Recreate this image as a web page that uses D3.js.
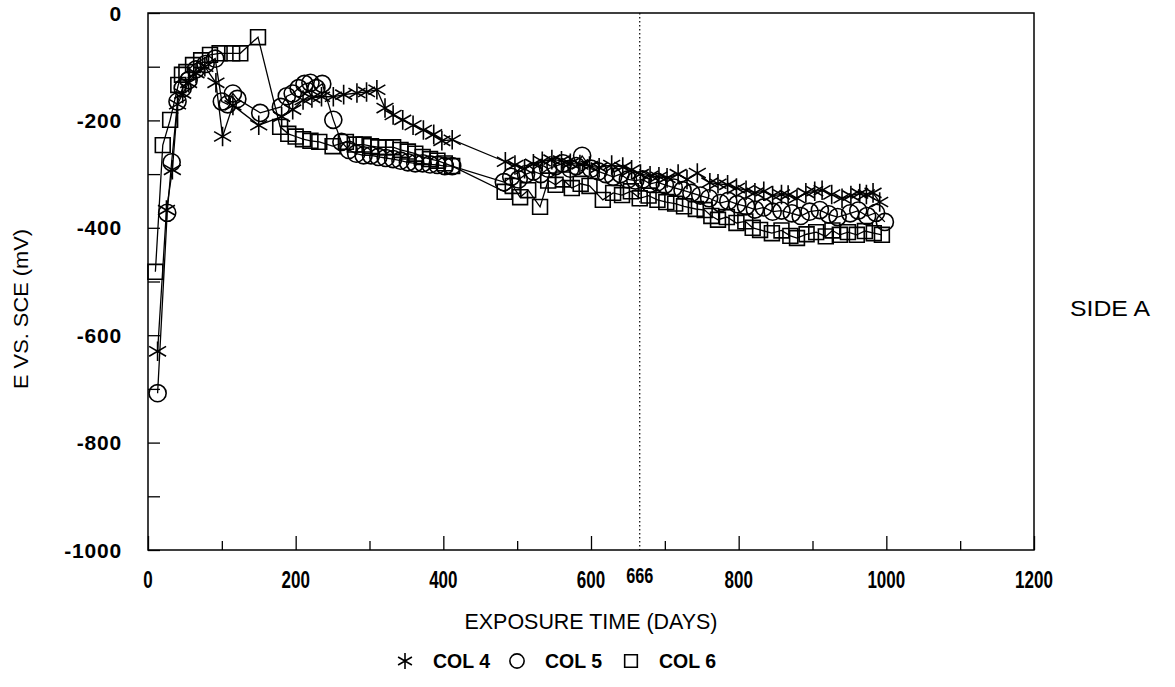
<!DOCTYPE html>
<meta charset="utf-8">
<style>
body { margin: 0; background: #fff; }
.series-line { fill: none; stroke: #000; stroke-width: 1.3px; }
.marker { fill: none; stroke: #000; stroke-width: 1.6px; }
text { font-family: "Liberation Sans", Arial, sans-serif; fill: #000; }
</style>
<body>
<script src="https://d3js.org/d3.v7.min.js"></script>
<script>

// COL 4 (asterisk)
var days4 = [13, 25, 33, 40, 47, 55, 65, 77, 92, 101, 115, 150, 181, 196, 210, 222, 235, 251, 265, 283, 296, 310, 321, 332, 345, 359, 373, 387, 398, 412,
             484, 497, 510, 522, 534, 547, 560, 572, 585, 598, 611, 628, 643, 655, 667, 680, 692, 703, 718, 730, 744, 761, 772, 785, 797, 810, 822,
             834, 846, 858, 867, 879, 891, 903, 913, 926, 940, 952, 964, 973, 982, 991];
var vals4 = [-630, -367, -292, -170, -150, -130, -112, -100, -130, -230, -172, -209, -193, -180, -162, -158, -156, -156, -152, -149, -147, -143, -177, -190, -199, -209, -218, -226, -238, -236,
             -277, -283, -290, -281, -276, -273, -275, -280, -282, -285, -288, -283, -287, -292, -300, -303, -305, -307, -300, -310, -298, -316, -318, -320, -326, -330, -335,
             -332, -340, -338, -339, -345, -335, -332, -330, -338, -345, -340, -336, -338, -335, -352];

// COL 5 (circle)
var days5 = [13, 26, 32, 40, 47, 55, 65, 78, 91, 100, 108, 115, 121, 152, 180, 188, 196, 204, 212, 220, 228, 236, 251, 262, 272, 282, 292, 302, 312, 322, 332, 342, 352, 362, 372, 382, 392, 402, 412,
             482, 492, 502, 512, 522, 532, 542, 552, 562, 572, 580, 588, 600, 610, 620, 630, 640, 650, 660, 670, 680, 690, 700, 712, 724, 736, 748, 760, 775, 786, 798, 810, 822,
             834, 846, 858, 872, 884, 896, 910, 922, 934, 951, 962, 974, 986, 998];
var vals5 = [-708, -372, -278, -165, -140, -125, -105, -95, -85, -165, -170, -150, -160, -186, -175, -155, -150, -140, -132, -130, -140, -132, -199, -240, -255, -262, -265, -265, -268, -270, -272, -275, -278, -280, -280, -282, -283, -285, -285,
             -315, -305, -310, -300, -295, -300, -290, -285, -280, -290, -285, -266, -290, -295, -300, -305, -300, -310, -312, -310, -318, -315, -320, -325, -330, -335, -340, -345, -354, -350, -356, -360, -366,
             -362, -370, -368, -373, -378, -370, -367, -375, -380, -373, -368, -378, -372, -389];

// COL 6 (square)
var days6 = [10, 20, 30, 41, 46, 52, 61, 72, 84, 97, 114, 125, 149, 179, 190, 200, 210, 220, 232, 250, 268, 280, 292, 302, 312, 322, 332, 342, 352, 362, 372, 382, 392, 402, 412,
             483, 494, 504, 515, 531, 542, 552, 562, 574, 586, 598, 616, 630, 642, 654, 666, 678, 690, 702, 714, 726, 742, 754, 763, 772, 784, 797, 809, 819, 829,
             845, 858, 870, 879, 892, 905, 918, 927, 937, 948, 960, 971, 983, 994];
var vals6 = [-482, -246, -199, -134, -115, -110, -97, -88, -78, -75, -75, -75, -45, -212, -225, -230, -235, -238, -240, -248, -240, -245, -245, -248, -250, -250, -250, -255, -258, -262, -268, -272, -275, -280, -285,
             -333, -322, -343, -330, -361, -312, -320, -310, -326, -318, -322, -348, -335, -339, -332, -345, -340, -348, -352, -355, -360, -365, -367, -378, -385, -380, -391, -388, -400, -404,
             -410, -405, -415, -419, -412, -408, -416, -405, -413, -408, -413, -406, -410, -413];

var xTicks = [0, 200, 400, 600, 800, 1000, 1200];
var yTicks = [0, -200, -400, -600, -800, -1000];
var markDay = 666;
var legendLabels = ["COL 4", "COL 5", "COL 6"];

var margin = {top: 13, left: 148},
    width = 886,
    height = 537;

var svg = d3.select("body").append("svg")
    .attr("width", 1175)
    .attr("height", 687);

var g = svg.append("g")
    .attr("transform", "translate(" + margin.left + "," + margin.top + ")");

var x = d3.scaleLinear().domain([0, 1200]).range([0, width]);
var y = d3.scaleLinear().domain([-1000, 0]).range([height, 0]);

// frame
g.append("rect")
    .attr("x", 0).attr("y", 0)
    .attr("width", width).attr("height", height)
    .attr("fill", "none").attr("stroke", "#000").attr("stroke-width", 1.5);

// inward ticks
var xAxis = d3.axisBottom(x).tickValues(d3.range(0, 1201, 100))
    .tickSize(0).tickFormat("");
var gx = g.append("g").attr("transform", "translate(0," + height + ")").call(xAxis);
gx.select(".domain").remove();
gx.selectAll(".tick").append("line")
    .attr("y2", function(d) { return d % 200 == 0 ? -14 : -9; })
    .attr("stroke", "#000").attr("stroke-width", 1.3);

var yAxis = d3.axisLeft(y).tickValues(d3.range(-1000, 1, 100))
    .tickSize(0).tickFormat("");
var gy = g.append("g").call(yAxis);
gy.select(".domain").remove();
gy.selectAll(".tick").append("line")
    .attr("x2", 12)
    .attr("stroke", "#000").attr("stroke-width", 1.3);

// condensed label helper: draws text at size, squeezed horizontally
function narrow(sel, sx) {
    sel.attr("transform", function() {
        var t = d3.select(this);
        var px = +t.attr("x"), py = +t.attr("y");
        return "translate(" + px + "," + py + ") scale(" + sx + ",1) translate(" + (-px) + "," + (-py) + ")";
    });
}

// tick labels
g.selectAll(".xlab").data(xTicks).enter().append("text")
    .attr("class", "xlab")
    .attr("x", function(d) { return x(d); })
    .attr("y", height + 38)
    .attr("text-anchor", "middle")
    .style("font-size", "23px")
    .style("font-weight", "bold")
    .text(function(d) { return d; })
    .call(narrow, 0.74);

g.append("text")
    .attr("x", x(markDay))
    .attr("y", height + 33)
    .attr("text-anchor", "middle")
    .style("font-size", "22px")
    .style("font-weight", "bold")
    .text(markDay)
    .call(narrow, 0.74);

g.selectAll(".ylab").data(yTicks).enter().append("text")
    .attr("class", "ylab")
    .attr("x", -26)
    .attr("y", function(d) { return y(d); })
    .attr("dy", "0.36em")
    .attr("text-anchor", "end")
    .style("font-size", "21px")
    .style("font-weight", "bold")
    .style("letter-spacing", "0.8px")
    .text(function(d) { return d; });

// dotted marker line at day 666
g.append("line")
    .attr("x1", x(markDay)).attr("x2", x(markDay))
    .attr("y1", 0).attr("y2", height)
    .attr("stroke", "#000").attr("stroke-width", 1.2)
    .attr("stroke-dasharray", "1.5,2.5");

// series
var series = [
    {days: days4, vals: vals4, sym: d3.symbolAsterisk, size: 270},
    {days: days5, vals: vals5, sym: d3.symbolCircle, size: 230},
    {days: days6, vals: vals6, sym: d3.symbolSquare, size: 220}
];

var line = d3.line()
    .x(function(d) { return x(d[0]); })
    .y(function(d) { return y(d[1]); });

series.forEach(function(s) {
    var pts = s.days.map(function(d, i) { return [d, s.vals[i]]; });
    g.append("path")
        .datum(pts)
        .attr("class", "series-line")
        .attr("d", line);
    g.selectAll(null).data(pts).enter().append("path")
        .attr("class", "marker")
        .attr("transform", function(d) { return "translate(" + x(d[0]) + "," + y(d[1]) + ")"; })
        .attr("d", d3.symbol().type(s.sym).size(s.size));
});

// axis titles
svg.append("text")
    .attr("x", margin.left + x(600))
    .attr("y", 629)
    .attr("text-anchor", "middle")
    .style("font-size", "22px")
    .attr("textLength", 253)
    .attr("lengthAdjust", "spacingAndGlyphs")
    .text("EXPOSURE TIME (DAYS)");

svg.append("text")
    .attr("transform", "translate(28,309) rotate(-90)")
    .attr("text-anchor", "middle")
    .style("font-size", "21px")
    .attr("textLength", 160)
    .attr("lengthAdjust", "spacingAndGlyphs")
    .text("E VS. SCE (mV)");

svg.append("text")
    .attr("x", 1070)
    .attr("y", 316)
    .style("font-size", "22px")
    .attr("textLength", 80)
    .attr("lengthAdjust", "spacingAndGlyphs")
    .text("SIDE A");

// legend
var legendX = [405, 517, 631];
var legendSyms = [d3.symbolAsterisk, d3.symbolCircle, d3.symbolSquare];
var legendSizes = [180, 160, 160];
var legend = svg.selectAll(".legend").data(legendLabels).enter().append("g")
    .attr("class", "legend")
    .attr("transform", function(d, i) { return "translate(" + legendX[i] + ",661)"; });
legend.append("path")
    .attr("class", "marker")
    .attr("d", function(d, i) { return d3.symbol().type(legendSyms[i]).size(legendSizes[i])(); });
legend.append("text")
    .attr("x", 28)
    .attr("dy", "0.36em")
    .style("font-size", "20px")
    .style("font-weight", "bold")
    .attr("textLength", 57)
    .attr("lengthAdjust", "spacingAndGlyphs")
    .text(function(d) { return d; });

</script>
</body>
